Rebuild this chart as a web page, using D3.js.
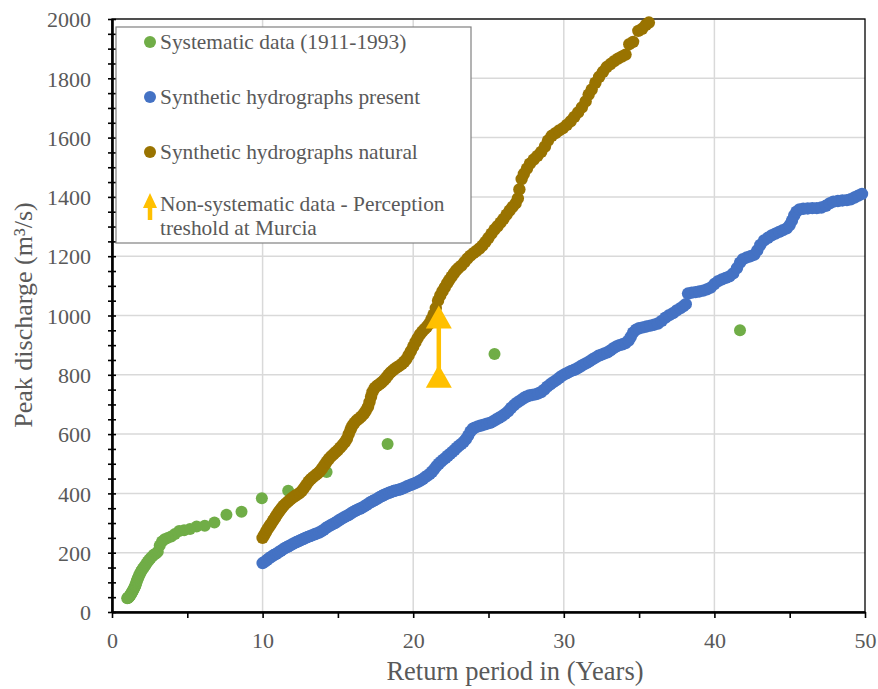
<!DOCTYPE html>
<html>
<head>
<meta charset="utf-8">
<script src="https://cdn.jsdelivr.net/npm/d3@7"></script>
<style>
  body { margin: 0; background: #fff; }
  text { font-family: "Liberation Serif", "Times New Roman", serif; fill: #595959; }
</style>
</head>
<body>
<div id="chart"><svg width="878" height="689"></svg></div>
<script>
// Systematic data (1911-1993): [return period, peak discharge]
var systematic = [
  [41.7,950],[25.4,870],[18.3,567],[14.25,472],[11.7,409],[9.95,384],[8.6,338],[7.6,328],
  [6.8,302],[6.16,291],[5.62,288],[5.18,280],[4.79,276],[4.46,273],[4.18,263],[3.93,255],
  [3.70,250],[3.50,245],[3.32,238],[3.17,224],[3.04,203],[2.92,197],[2.80,194],[2.68,188],
  [2.57,182],[2.47,176],[2.38,170],[2.29,164],[2.21,158],[2.13,152],[2.06,147],[1.99,142],
  [1.93,137],[1.87,131],[1.82,126],[1.77,120],[1.72,114],[1.68,109],[1.64,104],[1.60,97],
  [1.56,90],[1.52,86],[1.48,82],[1.45,78],[1.41,74],[1.38,71],[1.34,68],[1.31,65],
  [1.28,63],[1.25,60],[1.22,57],[1.19,55],[1.16,53],[1.13,51],[1.10,49],[1.07,48],
  [1.04,47],[1.01,46]
];

// Synthetic hydrographs present
var present = [
  [10.00,165],[10.15,170],[10.30,176],[10.45,182],[10.60,187],[10.75,192],[10.90,196],[11.05,201],
  [11.20,206],[11.35,211],[11.50,216],[11.65,220],[11.80,224],[11.95,228],[12.10,232],[12.25,236],
  [12.40,239],[12.55,243],[12.70,246],[12.85,250],[13.00,253],[13.15,256],[13.30,259],[13.45,262],
  [13.60,265],[13.75,268],[13.90,272],[14.05,277],[14.20,283],[14.35,288],[14.50,292],[14.65,296],
  [14.80,300],[14.95,305],[15.10,310],[15.25,315],[15.40,319],[15.55,323],[15.70,327],[15.85,332],
  [16.00,337],[16.15,341],[16.30,345],[16.45,348],[16.60,352],[16.75,356],[16.90,361],[17.05,366],
  [17.20,371],[17.35,375],[17.50,379],[17.65,383],[17.80,388],[17.95,392],[18.10,396],[18.25,399],
  [18.40,402],[18.55,405],[18.70,408],[18.85,410],[19.00,412],[19.15,414],[19.30,417],[19.45,420],
  [19.60,424],[19.75,427],[19.90,430],[20.05,433],[20.20,436],[20.35,440],[20.50,444],[20.65,449],
  [20.80,455],[20.95,460],[21.10,466],[21.25,473],[21.40,482],[21.55,492],[21.70,500],[21.85,507],
  [22.00,514],[22.15,520],[22.30,527],[22.45,533],[22.60,540],[22.75,547],[22.90,554],[23.05,561],
  [23.20,567],[23.35,574],[23.50,583],[23.65,595],[23.80,608],[23.95,618],[24.10,622],[24.30,626],
  [24.50,629],[24.70,632],[24.90,635],[25.10,638],[25.30,643],[25.50,649],[25.70,655],[25.90,661],
  [26.10,668],[26.30,677],[26.50,688],[26.70,698],[26.90,706],[27.10,713],[27.30,720],[27.50,726],
  [27.70,730],[27.90,732],[28.10,734],[28.30,737],[28.50,742],[28.70,750],[28.90,760],[29.10,768],
  [29.30,775],[29.50,782],[29.70,790],[29.90,797],[30.10,803],[30.30,808],[30.50,813],[30.70,817],
  [30.90,822],[31.10,828],[31.30,834],[31.50,839],[31.70,845],[31.90,852],[32.10,858],[32.30,864],
  [32.50,868],[32.70,872],[32.90,876],[33.10,882],[33.30,890],[33.50,896],[33.70,900],[33.90,903],
  [34.10,907],[34.30,915],[34.45,928],[34.60,942],[34.80,952],[35.00,957],[35.25,960],[35.50,963],
  [35.75,966],[36.00,969],[36.25,973],[36.50,982],[36.75,993],[37.00,1001],[37.25,1008],[37.50,1017],
  [37.75,1025],[37.95,1032],[38.10,1038],[38.25,1074],[38.50,1077],[38.75,1079],[39.00,1081],[39.25,1084],
  [39.50,1088],[39.75,1094],[40.00,1106],[40.25,1116],[40.50,1122],[40.75,1127],[41.00,1132],[41.25,1142],
  [41.50,1160],[41.70,1178],[41.90,1190],[42.15,1196],[42.40,1200],[42.65,1205],[42.85,1220],[43.05,1238],
  [43.30,1253],[43.55,1262],[43.80,1270],[44.05,1276],[44.30,1282],[44.55,1288],[44.80,1294],[45.00,1305],
  [45.15,1320],[45.30,1338],[45.45,1350],[45.65,1358],[45.90,1360],[46.20,1361],[46.50,1362],[46.80,1362],
  [47.10,1364],[47.40,1370],[47.65,1378],[47.90,1384],[48.20,1386],[48.50,1388],[48.80,1389],[49.05,1392],
  [49.30,1398],[49.55,1404],[49.80,1410]
];

// Synthetic hydrographs natural
var natural = [
  [10.00,250],[10.10,259],[10.20,268],[10.30,277],[10.40,285],[10.50,293],[10.60,300],[10.70,308],
  [10.80,316],[10.90,324],[11.00,332],[11.10,339],[11.20,346],[11.30,353],[11.40,359],[11.55,366],
  [11.70,373],[11.85,380],[12.00,386],[12.15,391],[12.30,396],[12.45,401],[12.60,408],[12.75,418],
  [12.90,429],[13.05,440],[13.20,448],[13.35,455],[13.50,461],[13.65,467],[13.80,474],[13.95,484],
  [14.10,495],[14.25,506],[14.40,516],[14.55,525],[14.70,532],[14.85,539],[15.00,546],[15.15,554],
  [15.30,563],[15.45,572],[15.60,584],[15.72,600],[15.84,615],[15.96,628],[16.10,638],[16.25,646],
  [16.40,652],[16.55,659],[16.70,667],[16.85,678],[17.00,692],[17.10,708],[17.20,726],[17.30,742],
  [17.45,756],[17.60,763],[17.75,768],[17.90,774],[18.05,781],[18.20,790],[18.35,800],[18.50,808],
  [18.65,815],[18.80,821],[18.95,826],[19.10,831],[19.25,837],[19.40,844],[19.55,853],[19.70,866],
  [19.85,880],[20.00,895],[20.15,910],[20.30,924],[20.45,936],[20.60,946],[20.75,954],[20.90,962],
  [21.05,972],[21.20,986],[21.35,1003],[21.50,1025],[21.65,1050],[21.80,1068],[21.95,1082],[22.10,1095],
  [22.25,1108],[22.40,1120],[22.55,1131],[22.70,1142],[22.85,1152],[23.00,1160],[23.20,1168],[23.40,1180],
  [23.60,1192],[23.80,1202],[24.00,1210],[24.20,1218],[24.40,1226],[24.60,1236],[24.80,1248],[25.00,1262],
  [25.20,1276],[25.40,1290],[25.60,1301],[25.80,1313],[26.00,1326],[26.20,1340],[26.40,1354],[26.60,1366],
  [26.80,1378],[26.95,1395],[27.05,1425],[27.20,1460],[27.35,1478],[27.55,1495],[27.75,1512],[28.00,1526],
  [28.25,1538],[28.50,1552],[28.75,1570],[28.95,1590],[29.20,1606],[29.45,1615],[29.70,1624],[29.95,1632],
  [30.20,1643],[30.45,1655],[30.70,1670],[30.95,1685],[31.20,1702],[31.45,1722],[31.65,1745],[31.85,1762],
  [32.10,1785],[32.35,1805],[32.60,1822],[32.85,1838],[33.10,1848],[33.35,1858],[33.60,1866],[33.85,1873],
  [34.10,1880],[34.35,1915],[34.60,1923],[34.95,1960],[35.20,1967],[35.45,1980],[35.65,1988]
];

// Non-systematic data - perception threshold at Murcia
var thresholdT = 21.7;
var thresholdLow = 800;
var thresholdHigh = 1000;

var legendLabels = [
  ["Systematic data (1911-1993)"],
  ["Synthetic hydrographs present"],
  ["Synthetic hydrographs natural"],
  ["Non-systematic data - Perception", "treshold at Murcia"]
];
var colors = ["#70AD47", "#4472C4", "#997300", "#FFC000"];

var xTicks = d3.range(0, 51, 5);
var yTicks = d3.range(0, 2001, 50);

// svg and dimensions
var svg = d3.select("#chart").select("svg");
var svgWidth = +svg.attr("width");
var svgHeight = +svg.attr("height");
var margin = {top: 19, left: 112, bottom: 77, right: 13};
var width = svgWidth - margin.left - margin.right;
var height = svgHeight - margin.top - margin.bottom;

var g = svg.append("g").attr("transform", "translate(" + [margin.left, margin.top] + ")");

var xScale = d3.scaleLinear().domain([0, 50]).range([0, width]);
var yScale = d3.scaleLinear().domain([0, 2000]).range([height, 0]);

// gridlines
g.append("g").selectAll("line")
  .data([10, 20, 30, 40])
  .enter().append("line")
  .attr("x1", function(d) { return xScale(d); })
  .attr("x2", function(d) { return xScale(d); })
  .attr("y1", 0).attr("y2", height)
  .attr("stroke", "#d9d9d9").attr("stroke-width", 1.5);
g.append("g").selectAll("line")
  .data(d3.range(200, 2001, 200))
  .enter().append("line")
  .attr("x1", 0).attr("x2", width)
  .attr("y1", function(d) { return yScale(d); })
  .attr("y2", function(d) { return yScale(d); })
  .attr("stroke", "#d9d9d9").attr("stroke-width", 1.5);

// frame (top and right)
g.append("rect")
  .attr("width", width).attr("height", height)
  .attr("fill", "none").attr("stroke", "#000").attr("stroke-width", 1.3);

// axes
var xAxisG = g.append("g")
  .attr("transform", "translate(0," + height + ")")
  .call(d3.axisBottom(xScale).tickValues(xTicks).tickSize(6).tickSizeOuter(0)
    .tickFormat(function(d) { return d % 10 === 0 ? d : ""; }));
xAxisG.select(".domain").attr("stroke", "#000").attr("stroke-width", 2.6);
xAxisG.selectAll(".tick line").attr("stroke", "#000").attr("stroke-width", 1.6);
xAxisG.selectAll(".tick text")
  .attr("y", 36).attr("dy", 0)
  .style("font-size", "22px").style("font-family", "Liberation Serif").attr("fill", "#595959");

var yAxisG = g.append("g")
  .call(d3.axisLeft(yScale).tickValues(yTicks).tickSize(4).tickSizeOuter(0).tickPadding(17)
    .tickFormat(function(d) { return d % 200 === 0 ? d : ""; }));
yAxisG.select(".domain").attr("stroke", "#000").attr("stroke-width", 2.6);
yAxisG.selectAll(".tick line").attr("x1", 4).attr("stroke", "#000").attr("stroke-width", 1.6);
yAxisG.selectAll(".tick text")
  .attr("dy", "0.35em")
  .style("font-size", "22px").style("font-family", "Liberation Serif").attr("fill", "#595959");

// axis titles
svg.append("text")
  .attr("x", 515).attr("y", 680)
  .attr("text-anchor", "middle")
  .style("font-size", "26.5px")
  .text("Return period in (Years)");
svg.append("text")
  .attr("transform", "translate(32,315) rotate(-90)")
  .attr("text-anchor", "middle")
  .style("font-size", "26px")
  .text("Peak discharge (m³/s)");

// series
function drawDots(data, color, r) {
  g.append("g").selectAll("circle")
    .data(data)
    .enter().append("circle")
    .attr("cx", function(d) { return xScale(d[0]); })
    .attr("cy", function(d) { return yScale(d[1]); })
    .attr("r", r)
    .attr("fill", color);
}
drawDots(systematic, colors[0], 6);
drawDots(present, colors[1], 6.2);
drawDots(natural, colors[2], 6.2);

// perception threshold arrow
var tri = "M0,-10L13,13L-13,13Z";
var arrowG = g.append("g");
arrowG.append("line")
  .attr("x1", xScale(thresholdT)).attr("x2", xScale(thresholdT))
  .attr("y1", yScale(thresholdLow)).attr("y2", yScale(thresholdHigh))
  .attr("stroke", colors[3]).attr("stroke-width", 4.5);
arrowG.selectAll("path")
  .data([thresholdLow, thresholdHigh])
  .enter().append("path")
  .attr("d", tri)
  .attr("transform", function(d) { return "translate(" + [xScale(thresholdT), yScale(d)] + ")"; })
  .attr("fill", colors[3]);

// legend
var legend = svg.append("g").attr("transform", "translate(116,27)");
legend.append("rect")
  .attr("width", 355).attr("height", 216)
  .attr("fill", "#fff").attr("stroke", "#808080").attr("stroke-width", 1.2);
var rowY = [15, 70, 125, 180];
legendLabels.forEach(function(lines, i) {
  var row = legend.append("g").attr("transform", "translate(0," + rowY[i] + ")");
  if (i < 3) {
    row.append("circle").attr("cx", 34).attr("cy", 0).attr("r", 6).attr("fill", colors[i]);
  } else {
    row.append("path").attr("d", "M34,-14L41,1L27,1Z").attr("fill", colors[3]);
    row.append("line").attr("x1", 34).attr("x2", 34).attr("y1", 0).attr("y2", 13)
      .attr("stroke", colors[3]).attr("stroke-width", 4.5);
  }
  lines.forEach(function(t, j) {
    row.append("text")
      .attr("x", 44)
      .attr("y", (i < 3 ? 6.5 : 3.6) + j * 24)
      .style("font-size", "21.4px")
      .text(t);
  });
});
</script>
</body>
</html>
